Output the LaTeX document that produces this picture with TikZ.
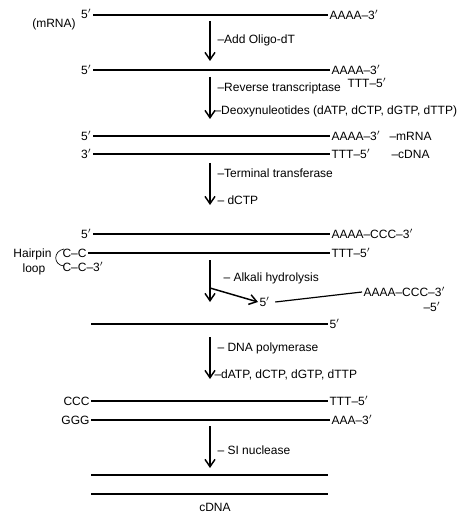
\documentclass[tikz,border=0pt]{standalone}
\usepackage{fontspec}
\setmainfont{Liberation Sans}
\usetikzlibrary{arrows.meta}
\newcommand{\prm}{$'$}
\newcommand{\lblfont}{\fontsize{9}{10.5}\selectfont}
\tikzset{every picture/.style={line width=0.75pt}}
\begin{document}
\begin{tikzpicture}[x=0.75pt,y=0.75pt,yscale=-1,xscale=1,
  strand/.style={line width=1.1pt},
  rxn/.style={line width=1.1pt,-{Straight Barb[length=5.5pt,width=7.5pt]}},
  lbl/.style={inner sep=0.75pt,font=\lblfont}]
\useasboundingbox (0,0) rectangle (474,520);

%mRNA
\node[lbl,anchor=east] (m5) at (93,14) {5\prm};
\node[lbl,anchor=west] (m3) at (328,15) {AAAA--3\prm};
\node[lbl] (mrna) at (54,24) {(mRNA)};
\draw[strand] (m5.east |- 0,15) -- (m3);
%step 1
\coordinate (a1s) at (210,21);
\coordinate (a1e) at (210,61);
\draw[rxn] (a1s) -- (a1e);
\node[lbl,anchor=west] (oligo) at (216,40) {--Add Oligo-dT};

%mRNA + primer
\node[lbl,anchor=east] (p5) at (93,70) {5\prm};
\node[lbl,anchor=west] (p3) at (330,70) {AAAA--3\prm};
\node[lbl,anchor=west] (pt) at (346,83) {TTT--5\prm};
\draw[strand] (p5) -- (p3);
%step 2
\coordinate (a2s) at (210,77);
\coordinate (a2e) at (210,119);
\draw[rxn] (a2s) -- (a2e);
\node[lbl,anchor=west] (rt) at (216,88) {--Reverse transcriptase};
\node[lbl,anchor=west] (dn) at (213,111) {--Deoxynuleotides (dATP, dCTP, dGTP, dTTP)};

%hybrid
\node[lbl,anchor=east] (h5) at (93,136) {5\prm};
\node[lbl,anchor=west] (h3) at (330,136) {AAAA--3\prm};
\node[lbl,anchor=west] (hm) at (388,136) {--mRNA};
\draw[strand] (h5) -- (h3);
\node[lbl,anchor=east] (c3) at (93,154) {3\prm};
\node[lbl,anchor=west] (c5) at (330,154) {TTT--5\prm};
\node[lbl,anchor=west] (hc) at (390,154) {--cDNA};
\draw[strand] (c3) -- (c5);
%step 3
\coordinate (a3s) at (210,163);
\coordinate (a3e) at (210,205);
\draw[rxn] (a3s) -- (a3e);
\node[lbl,anchor=west] (tt) at (216,173) {--Terminal transferase};
\node[lbl,anchor=west] (dc) at (216,200) {-- dCTP};

%tailed hybrid with hairpin
\node[lbl,anchor=east] (t5) at (93,234) {5\prm};
\node[lbl,anchor=west] (t3) at (330,234) {AAAA--CCC--3\prm};
\draw[strand] (t5) -- (t3);
\node[lbl,anchor=west] (cc1) at (61,253) {C--C};
\node[lbl,anchor=west] (tt5) at (330,253) {TTT--5\prm};
\draw[strand] (cc1) -- (tt5);
\node[lbl,anchor=west] (cc2) at (61,267) {C--C--3\prm};
\draw[line width=0.5pt] (64,249) .. controls (53,251) and (53,265) .. (64,266);
\node[lbl,anchor=east] (hp) at (53,254) {Hairpin};
\node[lbl] (lp) at (34,269) {loop};
%step 4
\coordinate (a4s) at (210,260);
\coordinate (a4e) at (210,302);
\coordinate (br) at (210,288);
\draw[rxn] (a4s) -- (a4e);
\node[lbl,anchor=west] (ak) at (222,278) {-- Alkali hydrolysis};
\node[lbl,anchor=west] (f5) at (258,302) {5\prm};
\draw[rxn] (br) -- (f5.west);
\node[lbl,anchor=west] (f3) at (362,292) {AAAA--CCC--3\prm};
\node[lbl,anchor=west] (fm) at (422,307) {--5\prm};
\draw[line width=0.9pt] (f5.east) ++(4,0) -- (f3.west);

%single strand cDNA
\coordinate (s3) at (91,324);
\node[lbl,anchor=west] (s5) at (328,324) {5\prm};
\draw[strand] (s3) -- (s5);
%step 5
\coordinate (a5s) at (210,337);
\coordinate (a5e) at (210,379);
\draw[rxn] (a5s) -- (a5e);
\node[lbl,anchor=west] (pol) at (216,348) {-- DNA polymerase};
\node[lbl,anchor=west] (dn2) at (213,375) {--dATP, dCTP, dGTP, dTTP};

%double strand
\node[lbl,anchor=east] (ccc) at (91,401) {CCC};
\node[lbl,anchor=west] (d5) at (328,401) {TTT--5\prm};
\draw[strand] (ccc) -- (d5);
\node[lbl,anchor=east] (ggg) at (91,420) {GGG};
\node[lbl,anchor=west] (d3) at (330,420) {AAA--3\prm};
\draw[strand] (ggg) -- (d3);
%step 6
\coordinate (a6s) at (210,426);
\coordinate (a6e) at (210,468);
\draw[rxn] (a6s) -- (a6e);
\node[lbl,anchor=west] (s1) at (216,450) {-- SI nuclease};

%cDNA
\coordinate (e1l) at (91,475);
\coordinate (e1r) at (328,475);
\coordinate (e2l) at (91,494);
\coordinate (e2r) at (328,494);
\draw[strand] (e1l) -- (e1r);
\draw[strand] (e2l) -- (e2r);
\node[lbl] (cdna) at (215,507) {cDNA};

\end{tikzpicture}
\end{document}
